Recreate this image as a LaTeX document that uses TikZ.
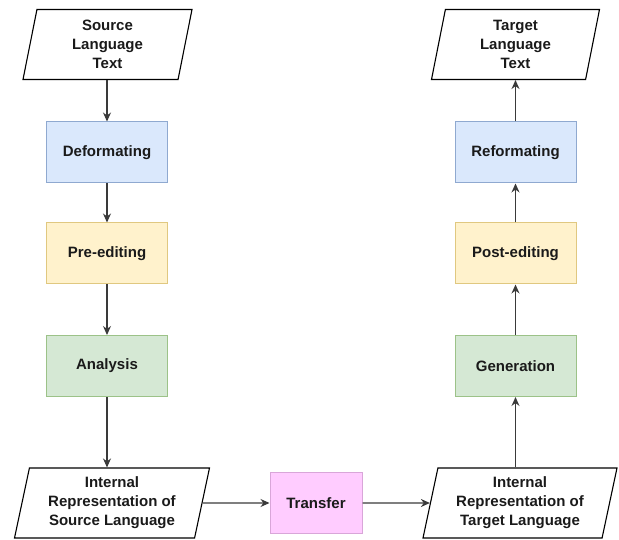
\documentclass[tikz,border=0pt]{standalone}
\usepackage{fontspec}
\setmainfont{Liberation Sans}
\usetikzlibrary{shapes.geometric,arrows.meta}

\definecolor{txtgray}{HTML}{1A1A1A}
\definecolor{linegray}{HTML}{3A3A3A}
\definecolor{bluefill}{HTML}{DAE8FC}
\definecolor{blueline}{HTML}{8FA9D0}
\definecolor{yellowfill}{HTML}{FFF2CC}
\definecolor{yellowline}{HTML}{E0C880}
\definecolor{greenfill}{HTML}{D5E8D4}
\definecolor{greenline}{HTML}{9CC288}
\definecolor{pinkfill}{HTML}{FFCCFF}
\definecolor{pinkline}{HTML}{D9A6D9}

\tikzset{
  box/.style={rectangle, minimum width=121, minimum height=61, inner sep=0pt,
    line width=1pt, text=txtgray, font=\bfseries\fontsize{15}{19}\selectfont},
  fmtbox/.style={box, draw=blueline, fill=bluefill},
  editbox/.style={box, draw=yellowline, fill=yellowfill},
  procbox/.style={box, draw=greenline, fill=greenfill},
  xferbox/.style={box, draw=pinkline, fill=pinkfill, minimum width=92},
  data/.style={trapezium, trapezium left angle=74, trapezium right angle=106,
    trapezium stretches body, draw=black, line width=1.1pt, minimum height=70,
    inner sep=0pt, align=center, text=txtgray,
    font=\bfseries\fontsize{15}{19}\selectfont},
  flow/.style={draw=linegray, line width=1.2pt, -{Stealth[length=9pt,width=8pt]}}
}

\begin{document}
\begin{tikzpicture}[x=1pt,y=-1pt]
  \useasboundingbox (0,0) rectangle (619,540);
  % source side
  \node[data, minimum width=169] (src) at (107.5,44.5) {Source\\Language\\Text};
  \node[fmtbox] (def) at (107,152.5) {Deformating};
  \node[editbox] (pre) at (107,253.5) {Pre-editing};
  \node[procbox] (ana) at (107,366) {Analysis};
  \node[data, minimum width=195] (isrc) at (112,503) {Internal\\Representation of\\Source Language};
  % transfer
  \node[xferbox] (tr) at (316,503) {Transfer};
  % target side
  \node[data, minimum width=194] (itgt) at (520,503) {Internal\\Representation of\\Target Language};
  \node[procbox] (gen) at (515.5,366) {Generation};
  \node[editbox] (post) at (515.5,253.5) {Post-editing};
  \node[fmtbox] (ref) at (515.5,152.5) {Reformating};
  \node[data, minimum width=168] (tgt) at (515.5,44.5) {Target\\Language\\Text};

  \draw[flow] (src.south -| def.north) -- (def.north);
  \draw[flow] (def) -- (pre);
  \draw[flow] (pre) -- (ana);
  \draw[flow] (ana.south) -- (ana.south |- isrc.north);
  \draw[flow] (isrc) -- (tr);
  \draw[flow] (tr) -- (itgt);
  \draw[flow] (gen.south |- itgt.north) -- (gen.south);
  \draw[flow] (gen) -- (post);
  \draw[flow] (post) -- (ref);
  \draw[flow] (ref.north) -- (ref.north |- tgt.south);
\end{tikzpicture}
\end{document}
